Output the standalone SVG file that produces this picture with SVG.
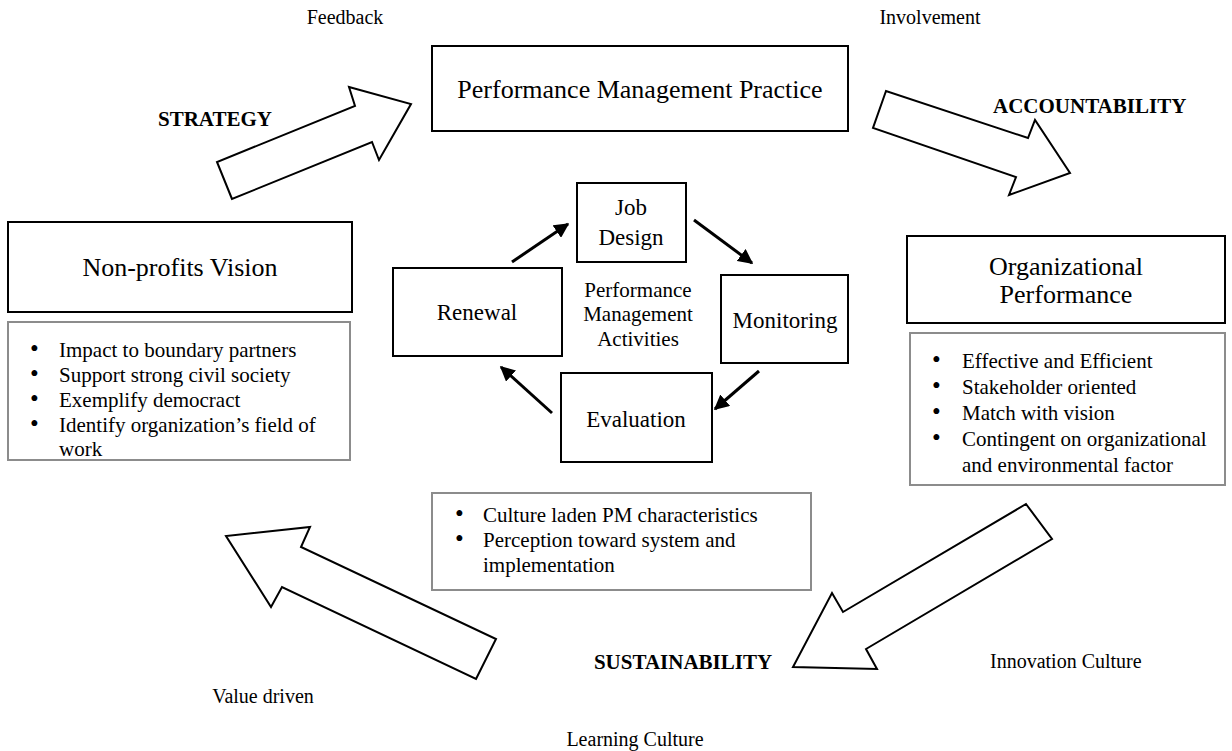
<svg xmlns="http://www.w3.org/2000/svg" width="1232" height="751" viewBox="0 0 1232 751">
<style>
  text { font-family: "Liberation Serif", "Times New Roman", serif; fill: #000; }
  .box { fill: #fff; stroke: #000; stroke-width: 2; }
  .list { fill: #fff; stroke: #8c8c8c; stroke-width: 2; }
  .big { fill: #fff; stroke: #000; stroke-width: 2; stroke-linejoin: miter; }
  .t26 { font-size: 26px; }
  .t23 { font-size: 23px; }
  .t21 { font-size: 21px; }
  .bul { font-size: 25px; }
  .lbl { font-size: 20px; }
  .bold { font-size: 21px; font-weight: bold; }
  .conn { stroke: #000; stroke-width: 3; fill: none; marker-end: url(#ah); }
</style>
<defs>
  <marker id="ah" viewBox="0 0 10 10" refX="9" refY="5" markerWidth="5" markerHeight="5" orient="auto" markerUnits="strokeWidth">
    <path d="M0,0 L10,5 L0,10 z" fill="#000"/>
  </marker>
</defs>
<rect width="1232" height="751" fill="#fff"/>

<g id="labels">
  <text class="lbl" x="345" y="24" text-anchor="middle">Feedback</text>
  <text class="lbl" x="930" y="24" text-anchor="middle">Involvement</text>
  <text class="bold" x="272" y="126" text-anchor="end">STRATEGY</text>
  <text class="bold" x="993" y="113">ACCOUNTABILITY</text>
  <text class="bold" x="683" y="669" text-anchor="middle">SUSTAINABILITY</text>
  <text class="lbl" x="990" y="668">Innovation Culture</text>
  <text class="lbl" x="263" y="703" text-anchor="middle">Value driven</text>
  <text class="lbl" x="635" y="746" text-anchor="middle">Learning Culture</text>
</g>

<g id="block-arrows">
  <polygon class="big" points="232,199 217,162 355,106 349,87 411,104 379,160 372,142"/>
  <polygon class="big" points="886,91 873,128 1016,177 1009,195 1070,173 1035,120 1028,138"/>
  <polygon class="big" points="1026,504 1052,539 866,649 877,669 793,667 832,593 843,612"/>
  <polygon class="big" points="476,679 496,639 301,547 310,527 226,536 271,607 282,587"/>
</g>

<g id="pm-practice">
  <rect class="box" x="432" y="46" width="416" height="85"/>
  <text class="t26" x="640" y="98" text-anchor="middle">Performance Management Practice</text>
</g>

<g id="np-vision">
  <rect class="box" x="8" y="222" width="344" height="90"/>
  <text class="t26" x="180" y="276" text-anchor="middle">Non-profits Vision</text>
</g>
<g id="np-vision-list">
  <rect class="list" x="8" y="322" width="342" height="138"/>
  <g class="t21">
    <text class="bul" x="30" y="357">•</text><text x="59" y="357">Impact to boundary partners</text>
    <text class="bul" x="30" y="382">•</text><text x="59" y="382">Support strong civil society</text>
    <text class="bul" x="30" y="407">•</text><text x="59" y="407">Exemplify democract</text>
    <text class="bul" x="30" y="432">•</text><text x="59" y="432">Identify organization’s field of</text>
    <text x="59" y="456">work</text>
  </g>
</g>

<g id="org-performance">
  <rect class="box" x="907" y="236" width="318" height="87"/>
  <text class="t26" x="1066" y="275" text-anchor="middle">Organizational</text>
  <text class="t26" x="1066" y="303" text-anchor="middle">Performance</text>
</g>
<g id="org-performance-list">
  <rect class="list" x="910" y="333" width="315" height="152"/>
  <g class="t21">
    <text class="bul" x="932" y="368">•</text><text x="962" y="368">Effective and Efficient</text>
    <text class="bul" x="932" y="394">•</text><text x="962" y="394">Stakeholder oriented</text>
    <text class="bul" x="932" y="420">•</text><text x="962" y="420">Match with vision</text>
    <text class="bul" x="932" y="446">•</text><text x="962" y="446">Contingent on organizational</text>
    <text x="962" y="472">and environmental factor</text>
  </g>
</g>

<g id="culture-list">
  <rect class="list" x="432" y="493" width="379" height="97"/>
  <g class="t21">
    <text class="bul" x="455" y="522">•</text><text x="483" y="522">Culture laden PM characteristics</text>
    <text class="bul" x="455" y="547">•</text><text x="483" y="547">Perception toward system and</text>
    <text x="483" y="572">implementation</text>
  </g>
</g>

<g id="job-design">
  <rect class="box" x="577" y="183" width="109" height="79"/>
  <text class="t23" x="631" y="215" text-anchor="middle">Job</text>
  <text class="t23" x="631" y="245" text-anchor="middle">Design</text>
</g>
<g id="renewal">
  <rect class="box" x="393" y="268" width="169" height="88"/>
  <text class="t23" x="477" y="320" text-anchor="middle">Renewal</text>
</g>
<g id="monitoring">
  <rect class="box" x="721" y="275" width="127" height="88"/>
  <text class="t23" x="785" y="328" text-anchor="middle">Monitoring</text>
</g>
<g id="evaluation">
  <rect class="box" x="561" y="373" width="151" height="89"/>
  <text class="t23" x="636" y="427" text-anchor="middle">Evaluation</text>
</g>
<g id="pm-activities">
  <text class="t21" x="638" y="297" text-anchor="middle">Performance</text>
  <text class="t21" x="638" y="321" text-anchor="middle">Management</text>
  <text class="t21" x="638" y="346" text-anchor="middle">Activities</text>
</g>

<g id="connectors">
  <path class="conn" d="M512,262 L568,224"/>
  <path class="conn" d="M694,220 L752,263"/>
  <path class="conn" d="M759,371 L715,409"/>
  <path class="conn" d="M552,413 L501,367"/>
</g>
</svg>
